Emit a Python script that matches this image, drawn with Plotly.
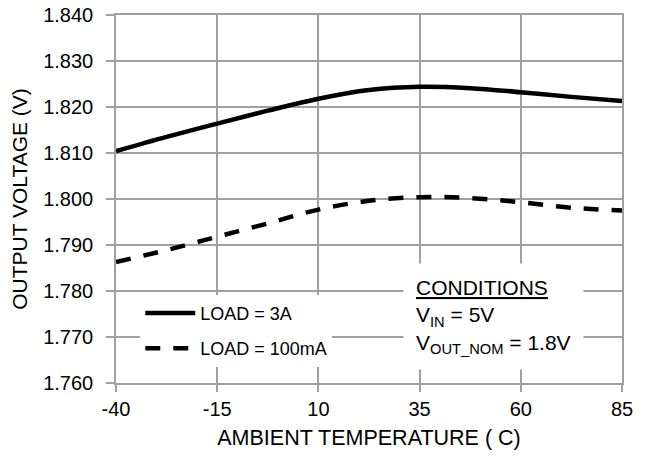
import plotly.graph_objects as go

temps = [-40, -27.5, -15, -2.5, 10, 22.5, 35, 47.5, 60, 72.5, 85]
load_3a = [1.8104, 1.8135, 1.8164, 1.8192, 1.8218, 1.8237, 1.8244, 1.8241, 1.8232, 1.8222, 1.8213]
load_100ma = [1.7863, 1.7889, 1.7918, 1.7947, 1.7977, 1.7996, 1.8004, 1.8002, 1.7993, 1.7981, 1.7975]
x_ticks = [-40, -15, 10, 35, 60, 85]
y_ticks = [1.760, 1.770, 1.780, 1.790, 1.800, 1.810, 1.820, 1.830, 1.840]

FONT = "Arial, Liberation Sans, sans-serif"
GRID = "#a0a0a0"

fig = go.Figure()
fig.add_trace(go.Scatter(x=temps, y=load_3a, mode="lines", name="LOAD = 3A",
                         line=dict(color="black", width=4.5, shape="spline"),
                         legendgroup="a"))
fig.add_trace(go.Scatter(x=temps, y=load_100ma, mode="lines", name="LOAD = 100mA",
                         line=dict(color="black", width=4.5, shape="spline", dash="15px,13px"),
                         legendgroup="b"))

fig.update_layout(
    width=652, height=456,
    margin=dict(l=116, r=30, t=15, b=73, autoexpand=False),
    paper_bgcolor="white", plot_bgcolor="white",
    font=dict(family=FONT, color="black", size=20),
    showlegend=True,
    legend=dict(x=0.048, y=0.24, xanchor="left", yanchor="top",
                bgcolor="white", borderwidth=0,
                font=dict(size=18, family=FONT, color="black"),
                traceorder="grouped", tracegroupgap=9, itemwidth=50),
    xaxis=dict(range=[-40, 85], tickvals=x_ticks, ticktext=[str(v) for v in x_ticks],
               showgrid=True, gridcolor=GRID, gridwidth=1.5, automargin=False,
               showline=True, linecolor=GRID, linewidth=1.5, mirror=True,
               ticks="outside", ticklen=7, tickcolor=GRID, tickwidth=1.5,
               zeroline=False, tickfont=dict(size=20),
               title=dict(text="AMBIENT TEMPERATURE ( C)", font=dict(size=21.5), standoff=11)),
    yaxis=dict(range=[1.760, 1.840], tickvals=y_ticks, ticktext=[f"{v:.3f}" for v in y_ticks],
               showgrid=True, gridcolor=GRID, gridwidth=1.5, automargin=False,
               showline=True, linecolor=GRID, linewidth=1.5, mirror=True,
               ticks="outside", ticklen=8, tickcolor=GRID, tickwidth=1.5,
               ticklabelstandoff=9,
               zeroline=False, tickfont=dict(size=20),
               title=dict(text="OUTPUT VOLTAGE (V)", font=dict(size=21), standoff=10)),
)

fig.add_annotation(
    xref="paper", yref="paper", x=(403 - 116) / 506, y=(383 - 316) / 368,
    xanchor="left", yanchor="middle", align="left",
    text="<u>CONDITIONS</u><br>V<sub>IN</sub> = 5V<br>V<sub>OUT_NOM</sub> = 1.8V",
    showarrow=False, bgcolor="white", borderpad=12,
    font=dict(size=21, family=FONT, color="black"),
)

fig.write_html("out.html", config={"displayModeBar": False},
               post_script="document.body.style.margin='0';document.body.style.overflow='hidden';")
